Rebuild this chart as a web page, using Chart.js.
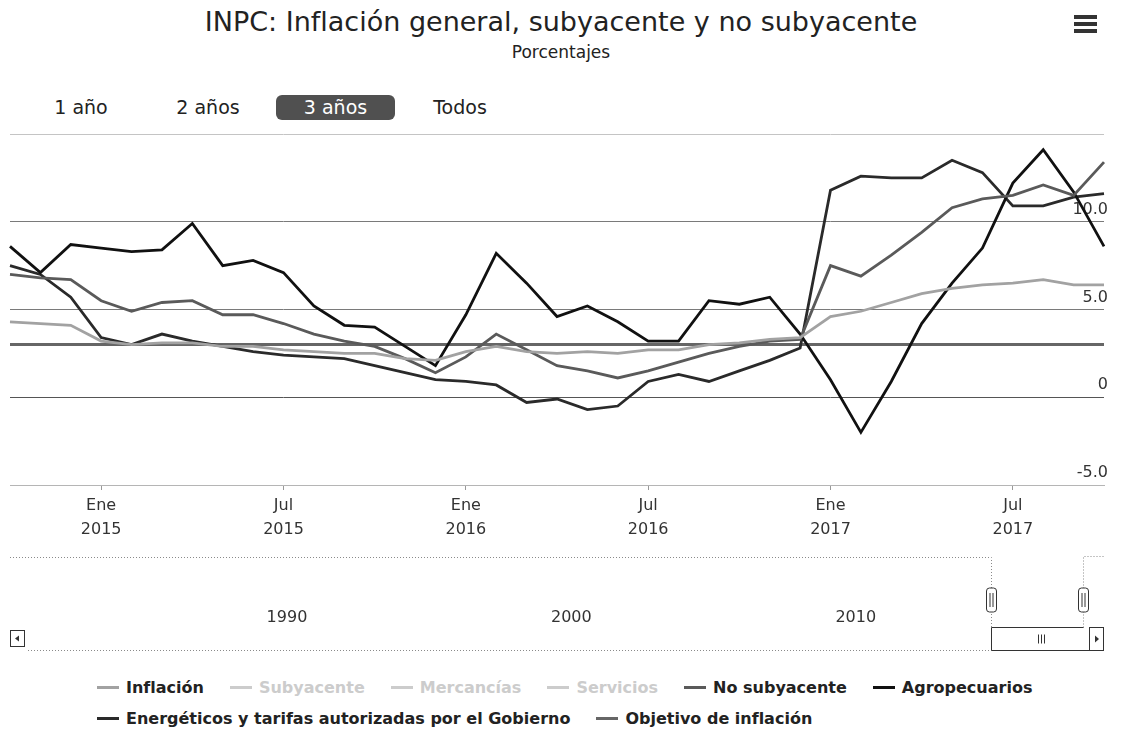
<!DOCTYPE html>
<html lang="es">
<head>
<meta charset="utf-8">
<title>INPC: Inflación general, subyacente y no subyacente</title>
<script src="https://cdn.jsdelivr.net/npm/chart.js@4.4.1/dist/chart.umd.min.js"></script>
<style>
  html, body { margin: 0; padding: 0; background: #fff; }
  body { width: 1122px; height: 741px; position: relative; overflow: hidden;
         font-family: "DejaVu Sans", Verdana, sans-serif; color: #222; }
  .titulo { position: absolute; top: 6px; left: 0; width: 1122px; text-align: center;
            font-size: 27px; line-height: 32px; }
  .subtitulo { position: absolute; top: 42px; left: 0; width: 1122px; text-align: center;
               font-size: 17px; line-height: 20px; }
  .menu { position: absolute; left: 1074px; top: 15px; width: 23px; }
  .menu span { display: block; height: 4px; background: #333; margin-bottom: 3px; }
  .rango { position: absolute; top: 95px; height: 25px; line-height: 25px; font-size: 19px;
           text-align: center; }
  .rango.activo { background: #505050; color: #fff; border-radius: 6px; }
  #grafica { position: absolute; left: 0; top: 120px; }
  #leyenda { position: absolute; left: 97px; top: 672px; width: 1010px; display: flex;
             flex-wrap: wrap; font-weight: bold; font-size: 16px; line-height: 31px; color: #222; }
  #leyenda .item { display: inline-flex; align-items: center; margin-right: 26px; white-space: nowrap; }
  #leyenda .item i { display: inline-block; width: 22px; height: 3px; margin-right: 7px; }
  #leyenda .item.oculto { color: #cccccc; }
</style>
</head>
<body>
<div class="titulo">INPC: Inflación general, subyacente y no subyacente</div>
<div class="subtitulo">Porcentajes</div>
<div class="menu"><span></span><span></span><span></span></div>

<div class="rango" style="left:48px;width:66px">1 año</div>
<div class="rango" style="left:172px;width:72px">2 años</div>
<div class="rango activo" style="left:276px;width:119px">3 años</div>
<div class="rango" style="left:425px;width:70px">Todos</div>

<canvas id="grafica" width="1122" height="535"></canvas>
<div id="leyenda"></div>

<script>
// meses mostrados (rango "3 años")
const meses = ['Oct 2014','Nov 2014','Dic 2014','Ene 2015','Feb 2015','Mar 2015','Abr 2015','May 2015',
  'Jun 2015','Jul 2015','Ago 2015','Sep 2015','Oct 2015','Nov 2015','Dic 2015','Ene 2016','Feb 2016',
  'Mar 2016','Abr 2016','May 2016','Jun 2016','Jul 2016','Ago 2016','Sep 2016','Oct 2016','Nov 2016',
  'Dic 2016','Ene 2017','Feb 2017','Mar 2017','Abr 2017','May 2017','Jun 2017','Jul 2017','Ago 2017',
  'Sep 2017','Oct 2017'];

// variación anual, %
const inflacion = [4.3, 4.2, 4.1, 3.2, 3.0, 3.1, 3.1, 2.9, 2.9, 2.7, 2.6, 2.5, 2.5, 2.2, 2.1, 2.6, 2.9,
  2.6, 2.5, 2.6, 2.5, 2.7, 2.7, 3.0, 3.1, 3.3, 3.4, 4.6, 4.9, 5.4, 5.9, 6.2, 6.4, 6.5, 6.7, 6.4, 6.4];
const noSubyacente = [7.0, 6.8, 6.7, 5.5, 4.9, 5.4, 5.5, 4.7, 4.7, 4.2, 3.6, 3.2, 2.9, 2.2, 1.4, 2.3, 3.6,
  2.7, 1.8, 1.5, 1.1, 1.5, 2.0, 2.5, 2.9, 3.2, 3.3, 7.5, 6.9, 8.1, 9.4, 10.8, 11.3, 11.5, 12.1, 11.5, 13.4];
const agropecuarios = [8.6, 7.1, 8.7, 8.5, 8.3, 8.4, 9.9, 7.5, 7.8, 7.1, 5.2, 4.1, 4.0, 2.9, 1.8, 4.7, 8.2,
  6.5, 4.6, 5.2, 4.3, 3.2, 3.2, 5.5, 5.3, 5.7, 3.6, 1.0, -2.0, 0.9, 4.2, 6.5, 8.5, 12.2, 14.1, 11.7, 8.6];
const energeticos = [7.5, 7.0, 5.7, 3.4, 3.0, 3.6, 3.2, 2.9, 2.6, 2.4, 2.3, 2.2, 1.8, 1.4, 1.0, 0.9, 0.7,
  -0.3, -0.1, -0.7, -0.5, 0.9, 1.3, 0.9, 1.5, 2.1, 2.8, 11.8, 12.6, 12.5, 12.5, 13.5, 12.8, 10.9, 10.9, 11.4, 11.6];
const objetivo = [3, 3, 3, 3, 3, 3, 3, 3, 3, 3, 3, 3, 3, 3, 3, 3, 3, 3, 3, 3, 3, 3, 3, 3, 3, 3, 3, 3,
  3, 3, 3, 3, 3, 3, 3, 3, 3];
// series ocultas en la leyenda (no se dibujan)
const subyacente = [];
const mercancias = [];
const servicios = [];

const marcasY = [-5, 0, 5, 10, 15];
const anosNavegador = [1990, 2000, 2010];
const rangoNavegador = [1980.26, 2018.73];
const rangoVisible = [2014.75, 2018.0];

Chart.defaults.font.family = '"DejaVu Sans", Verdana, sans-serif';
Chart.defaults.color = '#333';

const esEtiquetada = (i) => {
  const m = (meses[i] || '').split(' ')[0];
  return m === 'Ene' || m === 'Jul';
};

// navegador y barra de desplazamiento, estilo Highstock
const navegador = {
  id: 'navegador',
  afterDraw(chart) {
    const s = chart.scales.nav;
    const ctx = chart.ctx;
    const izq = chart.chartArea.left, der = chart.chartArea.right;
    const arriba = s.top + 0.5;
    const pistaTop = s.bottom - 27.5, pistaBot = s.bottom - 4.5;
    const xL = Math.round(s.getPixelForValue(rangoVisible[0])) + 0.5;
    const xR = Math.round(s.getPixelForValue(rangoVisible[1])) + 0.5;

    ctx.save();
    ctx.lineWidth = 1;
    ctx.strokeStyle = '#8a8a8a';
    ctx.setLineDash([1, 2]);
    ctx.beginPath();
    ctx.moveTo(izq, arriba); ctx.lineTo(xL, arriba); ctx.lineTo(xL, pistaTop);
    ctx.moveTo(xR, pistaTop); ctx.lineTo(xR, arriba - 1); ctx.lineTo(der, arriba - 1);
    ctx.moveTo(izq + 18, pistaBot); ctx.lineTo(xL, pistaBot);
    ctx.stroke();
    ctx.setLineDash([]);

    ctx.strokeStyle = '#333';
    // pista entre manijas
    ctx.beginPath(); ctx.moveTo(xL, pistaTop); ctx.lineTo(xR, pistaTop); ctx.stroke();
    // boton izquierdo
    ctx.strokeRect(izq + 0.5, pistaTop + 3, 14, 16);
    ctx.fillStyle = '#333';
    ctx.beginPath(); ctx.moveTo(izq + 5, pistaTop + 11); ctx.lineTo(izq + 9, pistaTop + 8);
    ctx.lineTo(izq + 9, pistaTop + 14); ctx.closePath(); ctx.fill();
    // boton derecho
    ctx.strokeRect(der - 14.5, pistaTop, 14, 23);
    ctx.beginPath(); ctx.moveTo(der - 5, pistaTop + 11.5); ctx.lineTo(der - 9, pistaTop + 8);
    ctx.lineTo(der - 9, pistaTop + 15); ctx.closePath(); ctx.fill();
    // barra
    ctx.beginPath(); ctx.moveTo(xL, pistaTop); ctx.lineTo(xL, pistaBot); ctx.lineTo(der - 14.5, pistaBot); ctx.stroke();
    const cx = Math.round((xL + der - 14) / 2) + 0.5;
    ctx.beginPath();
    for (const d of [-3, 0, 3]) { ctx.moveTo(cx + d, pistaTop + 7); ctx.lineTo(cx + d, pistaTop + 16); }
    ctx.stroke();
    // manijas
    const hy = s.top + 43;
    for (const x of [xL, xR]) {
      ctx.beginPath();
      ctx.roundRect(x - 5, hy - 12, 10, 24, 3);
      ctx.fillStyle = '#fff'; ctx.fill(); ctx.stroke();
      ctx.beginPath();
      ctx.moveTo(x - 1.5, hy - 7); ctx.lineTo(x - 1.5, hy + 7);
      ctx.moveTo(x + 1.5, hy - 7); ctx.lineTo(x + 1.5, hy + 7);
      ctx.stroke();
    }
    ctx.restore();
  }
};

// leyenda en HTML a partir de las etiquetas de Chart.js
const leyendaHtml = {
  id: 'leyendaHtml',
  afterUpdate(chart) {
    const cont = document.getElementById('leyenda');
    cont.innerHTML = '';
    const items = Chart.defaults.plugins.legend.labels.generateLabels(chart);
    items.forEach((it) => {
      const el = document.createElement('span');
      el.className = 'item' + (it.hidden ? ' oculto' : '');
      const sym = document.createElement('i');
      sym.style.background = it.hidden ? '#cccccc' : it.strokeStyle;
      el.appendChild(sym);
      el.appendChild(document.createTextNode(it.text));
      cont.appendChild(el);
    });
  }
};

const ctx = document.getElementById('grafica');
new Chart(ctx, {
  type: 'line',
  data: {
    labels: meses,
    datasets: [
      { label: 'Inflación', data: inflacion, borderColor: '#a2a2a2' },
      { label: 'Subyacente', data: subyacente, borderColor: '#bbbbbb', hidden: true },
      { label: 'Mercancías', data: mercancias, borderColor: '#bbbbbb', hidden: true },
      { label: 'Servicios', data: servicios, borderColor: '#bbbbbb', hidden: true },
      { label: 'No subyacente', data: noSubyacente, borderColor: '#5a5a5a' },
      { label: 'Agropecuarios', data: agropecuarios, borderColor: '#111111' },
      { label: 'Energéticos y tarifas autorizadas por el Gobierno', data: energeticos, borderColor: '#2a2a2a' },
      { label: 'Objetivo de inflación', data: objetivo, borderColor: '#666666', borderWidth: 3 }
    ]
  },
  options: {
    responsive: false,
    animation: false,
    devicePixelRatio: 1,
    layout: { padding: { left: 10, right: 10, top: 14, bottom: 0 } },
    elements: {
      point: { radius: 0 },
      line: { tension: 0, borderWidth: 2.8, fill: false }
    },
    plugins: {
      legend: { display: false },
      tooltip: { enabled: false }
    },
    scales: {
      x: {
        type: 'category',
        weight: 0,
        grid: {
          drawOnChartArea: false,
          tickLength: 5,
          color: (c) => esEtiquetada(c.index) ? '#999' : 'rgba(0,0,0,0)'
        },
        border: { color: '#b5b5b5' },
        ticks: {
          autoSkip: false,
          maxRotation: 0,
          padding: 4,
          font: { size: 16, lineHeight: 1.5 },
          color: '#333',
          callback: (v, i) => esEtiquetada(i) ? meses[i].split(' ') : ''
        },
        afterFit: (s) => { s.height = 72; }
      },
      nav: {
        type: 'linear',
        position: 'bottom',
        weight: 1,
        min: rangoNavegador[0],
        max: rangoNavegador[1],
        grid: { display: false, drawTicks: false },
        border: { display: false },
        ticks: { padding: 51, font: { size: 16 }, color: '#333', callback: (v) => String(v) },
        afterBuildTicks: (s) => { s.ticks = anosNavegador.map((v) => ({ value: v })); },
        afterFit: (s) => { s.height = 98; }
      },
      y: {
        position: 'right',
        min: marcasY[0],
        max: marcasY[marcasY.length - 1],
        afterBuildTicks: (s) => { s.ticks = marcasY.map((v) => ({ value: v })); },
        grid: {
          drawTicks: false,
          color: (c) => {
            const v = c.tick ? c.tick.value : null;
            if (v === 0) return '#555';
            if (v === 5 || v === 10) return '#7a7a7a';
            return '#c4c4c4';
          }
        },
        border: { display: false },
        ticks: {
          mirror: true,
          padding: 4,
          labelOffset: -12,
          font: { size: 16 },
          color: '#333',
          callback: (v) => v === 15 ? '' : (v === 0 ? '0' : v.toFixed(1))
        }
      }
    }
  },
  plugins: [navegador, leyendaHtml]
});
</script>
</body>
</html>
